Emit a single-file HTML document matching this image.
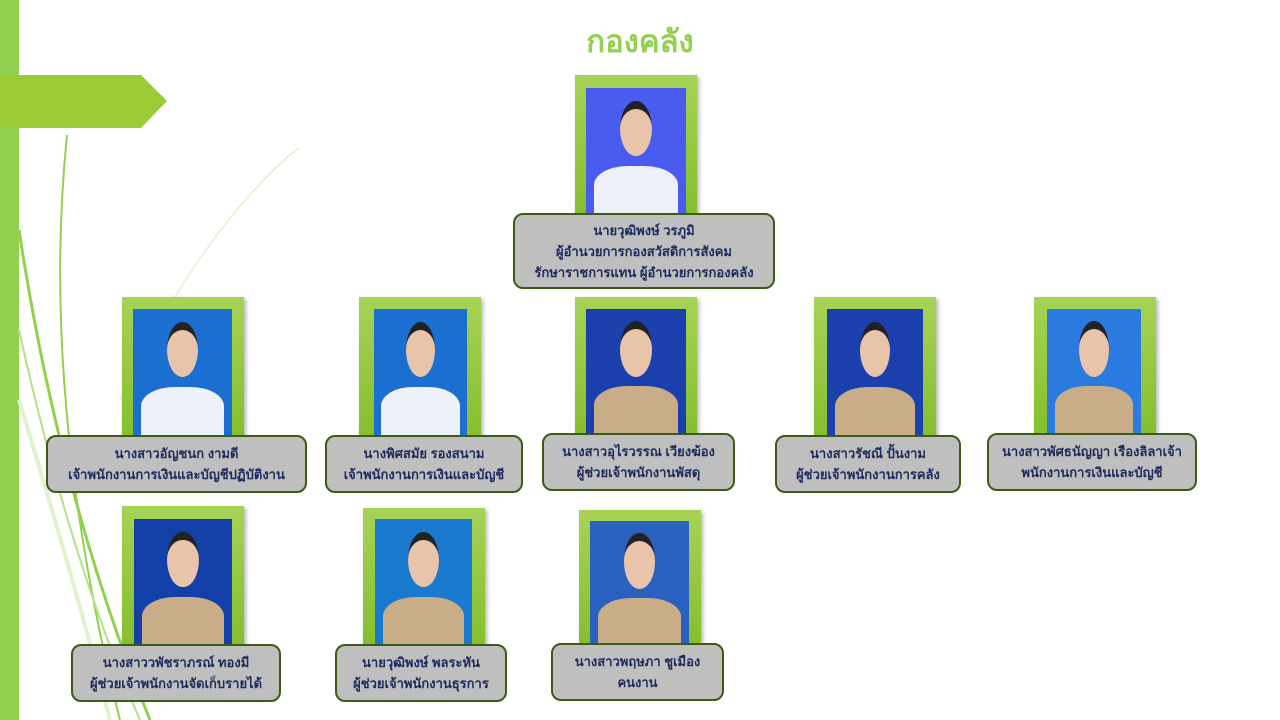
<!DOCTYPE html>
<html><head><meta charset="utf-8"><style>
body{margin:0;width:1280px;height:720px;position:relative;overflow:hidden;background:#fff;font-family:"Liberation Sans","Noto Sans CJK SC",sans-serif}
.fr{position:absolute;width:122px;background:linear-gradient(#a6d356,#86be2e);box-shadow:2px 2px 4px rgba(0,0,0,.3)}
.ph{position:absolute;background:#2a5ad8;overflow:hidden}
.ph .hd{position:absolute;left:34%;top:10%;width:32%;height:38%;border-radius:50%;background:#e8c4aa;border-top:8px solid #222}
.ph .bd{position:absolute;left:8%;bottom:0;width:84%;height:38%;border-radius:40% 40% 0 0;background:#eef0fa}
.ph.k .bd{background:#c8ad88}
.lb{position:absolute;background:#bfbfbf;border:2px solid #3d5a17;border-radius:10px;color:#1f2a5c;font-weight:bold;font-size:13px;text-align:center;line-height:21px;box-sizing:border-box;display:flex;flex-direction:column;justify-content:center}
</style></head><body>
<div style="position:absolute;left:0;top:0;width:19px;height:720px;background:#92d050"></div>
<div style="position:absolute;left:0;top:75px;width:167px;height:53px;background:#9acd35;clip-path:polygon(0 0,141px 0,167px 26px,141px 53px,0 53px)"></div>
<svg style="position:absolute;left:0;top:0" width="320" height="720">
<path d="M67 135 Q40 400 120 720" stroke="#92d050" stroke-width="2" fill="none"/>
<path d="M19 230 Q60 500 150 720" stroke="#92d050" stroke-width="3" fill="none"/>
<path d="M19 330 Q70 560 140 720" stroke="#b8e08a" stroke-width="2" fill="none"/>
<path d="M19 400 Q80 600 110 720" stroke="#e2f2cc" stroke-width="4" fill="none"/>
<path d="M298 148 Q200 230 120 400" stroke="#e2f2cc" stroke-width="1.5" fill="none"/>
</svg>
<div style="position:absolute;left:0;width:1280px;top:16px;text-align:center;color:#92d050;font-size:31px;font-weight:bold">กองคลัง</div>

<div class="fr" style="left:575px;top:75px;height:140px"></div><div class="ph" style="left:586px;top:88px;width:100px;height:125px;background:#4a5cf0"><div class="hd"></div><div class="bd"></div></div>
<div class="lb" style="left:513px;top:213px;width:262px;height:76px"><div>นายวุฒิพงษ์ วรภูมิ</div><div>ผู้อำนวยการกองสวัสดิการสังคม</div><div>รักษาราชการแทน ผู้อำนวยการกองคลัง</div></div>

<div class="fr" style="left:122px;top:297px;height:140px"></div><div class="ph" style="left:133px;top:309px;width:99px;height:126px;background:#1a6fd0"><div class="hd"></div><div class="bd"></div></div>
<div class="lb" style="left:46px;top:435px;width:261px;height:58px"><div>นางสาวอัญชนก งามดี</div><div>เจ้าพนักงานการเงินและบัญชีปฏิบัติงาน</div></div>

<div class="fr" style="left:359px;top:297px;height:140px"></div><div class="ph" style="left:374px;top:309px;width:93px;height:126px;background:#1a6fd0"><div class="hd"></div><div class="bd"></div></div>
<div class="lb" style="left:325px;top:435px;width:198px;height:58px"><div>นางพิศสมัย รองสนาม</div><div>เจ้าพนักงานการเงินและบัญชี</div></div>

<div class="fr" style="left:575px;top:297px;height:138px"></div><div class="ph k" style="left:586px;top:309px;width:100px;height:124px;background:#1c3fae"><div class="hd"></div><div class="bd"></div></div>
<div class="lb" style="left:542px;top:433px;width:193px;height:58px"><div>นางสาวอุไรวรรณ เวียงฆ้อง</div><div>ผู้ช่วยเจ้าพนักงานพัสดุ</div></div>

<div class="fr" style="left:814px;top:297px;height:140px"></div><div class="ph k" style="left:827px;top:309px;width:96px;height:126px;background:#1c3fae"><div class="hd"></div><div class="bd"></div></div>
<div class="lb" style="left:775px;top:435px;width:186px;height:58px"><div>นางสาวรัชณี ปั้นงาม</div><div>ผู้ช่วยเจ้าพนักงานการคลัง</div></div>

<div class="fr" style="left:1034px;top:297px;height:138px"></div><div class="ph k" style="left:1047px;top:309px;width:94px;height:124px;background:#2a7ae0"><div class="hd"></div><div class="bd"></div></div>
<div class="lb" style="left:987px;top:433px;width:210px;height:58px"><div>นางสาวพัศธนัญญา เรืองลิลาเจ้า</div><div>พนักงานการเงินและบัญชี</div></div>

<div class="fr" style="left:122px;top:506px;height:140px"></div><div class="ph k" style="left:134px;top:519px;width:98px;height:126px;background:#1240a8"><div class="hd"></div><div class="bd"></div></div>
<div class="lb" style="left:71px;top:644px;width:210px;height:58px"><div>นางสาววพัชราภรณ์ ทองมี</div><div>ผู้ช่วยเจ้าพนักงานจัดเก็บรายได้</div></div>

<div class="fr" style="left:363px;top:508px;height:138px"></div><div class="ph k" style="left:375px;top:519px;width:97px;height:126px;background:#1a7ad0"><div class="hd"></div><div class="bd"></div></div>
<div class="lb" style="left:335px;top:644px;width:172px;height:58px"><div>นายวุฒิพงษ์ พลระหัน</div><div>ผู้ช่วยเจ้าพนักงานธุรการ</div></div>

<div class="fr" style="left:579px;top:510px;height:136px"></div><div class="ph k" style="left:590px;top:521px;width:99px;height:124px;background:#2a60c0"><div class="hd"></div><div class="bd"></div></div>
<div class="lb" style="left:551px;top:643px;width:173px;height:58px"><div>นางสาวพฤษภา ชูเมือง</div><div>คนงาน</div></div>
</body></html>
